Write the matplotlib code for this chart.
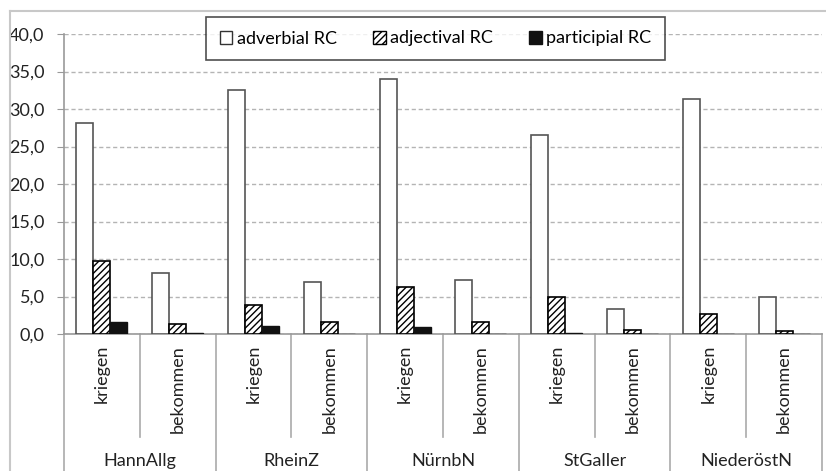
import numpy as np
import matplotlib
matplotlib.use('Agg')
import matplotlib.pyplot as plt
import matplotlib.patches as mpatches
import matplotlib.transforms as mtransforms
from matplotlib.ticker import FuncFormatter

plt.rcParams['font.family'] = ['Lato', 'DejaVu Sans']
plt.rcParams['hatch.linewidth'] = 1.0

groups = ['HannAllg', 'RheinZ', 'NürnbN', 'StGaller', 'NiederöstN']
verbs = ['kriegen', 'bekommen']
adverbial = [28.2, 8.2, 32.6, 6.9, 34.0, 7.2, 26.6, 3.3, 31.3, 5.0]
adjectival = [9.7, 1.3, 3.9, 1.6, 6.3, 1.6, 5.0, 0.6, 2.7, 0.35]
participial = [1.6, 0.2, 1.1, 0.0, 0.9, 0.0, 0.2, 0.0, 0.0, 0.0]

fig = plt.figure(figsize=(8.26, 4.71), dpi=100)
W, H = 826, 471
ax = fig.add_axes([64 / W, (471 - 334) / H, (822 - 64) / W, 300 / H])

n = len(adverbial)
x = np.arange(n)
bw = 0.225
ax.bar(x - bw, adverbial, bw, color='white', edgecolor='#555555', lw=1.2, zorder=3)
ax.bar(x, adjectival, bw, color='white', edgecolor='black', hatch='/////', lw=1.2, zorder=3)
ax.bar(x + bw, participial, bw, color='#111111', edgecolor='#111111', lw=1.0, zorder=3)

ax.set_xlim(-0.5, n - 0.5)
ax.set_ylim(0, 40)
ax.set_yticks(np.arange(0, 41, 5))
ax.yaxis.set_major_formatter(FuncFormatter(lambda v, p: f'{v:.1f}'.replace('.', ',')))
ax.tick_params(axis='y', labelsize=13, length=5, color='#999999', labelcolor='#222222', pad=9)
ax.set_xticks([])
ax.grid(axis='y', linestyle=(0, (3, 2)), color='#b4b4b4', lw=1.0, zorder=0)
for s in ['top', 'right']:
    ax.spines[s].set_visible(False)
ax.spines['left'].set_color('#999999')
ax.spines['bottom'].set_color('#999999')
ax.spines['left'].set_linewidth(1.2)
ax.spines['bottom'].set_linewidth(1.2)

# two-level category axis below the plot
tr = mtransforms.blended_transform_factory(ax.transData, fig.transFigure)
y_axis = (471 - 334) / H
y_sub = (471 - 437) / H
for i in range(n + 1):
    xb = i - 0.5
    y_end = 0 if i % 2 == 0 else y_sub
    ax.plot([xb, xb], [y_axis, y_end], transform=tr, color='#aaaaaa', lw=1.2, clip_on=False)
for i in range(n):
    ax.text(i, (471 - 345) / H, verbs[i % 2], transform=tr, rotation=90,
            ha='center', va='top', fontsize=13, color='#222222')
for g, name in enumerate(groups):
    ax.text(2 * g + 0.5, (471 - 461) / H, name, transform=tr,
            ha='center', va='center', fontsize=13, color='#222222')

# outer frame of the chart area
fig.add_artist(plt.Line2D([10 / W, 10 / W], [0, (471 - 11) / H], color='#c8c8c8', lw=1.5))
fig.add_artist(plt.Line2D([10 / W, 1], [(471 - 11) / H, (471 - 11) / H], color='#c8c8c8', lw=1.5))

handles = [
    mpatches.Patch(facecolor='white', edgecolor='#333333', label='adverbial RC'),
    mpatches.Patch(facecolor='white', edgecolor='black', hatch='/////', label='adjectival RC'),
    mpatches.Patch(facecolor='#111111', edgecolor='#111111', label='participial RC'),
]
leg = fig.legend(handles=handles, ncol=3, loc='center',
                 bbox_to_anchor=((205 + 666) / 2 / W, 1 - (18 + 59) / 2 / H),
                 fontsize=13, frameon=True, fancybox=False, edgecolor='#222222',
                 handlelength=0.7, handleheight=0.7, handletextpad=0.25,
                 columnspacing=2.0, borderpad=0.75, borderaxespad=0)
leg.get_frame().set_linewidth(1.2)

fig.savefig('out.png', dpi=100)
